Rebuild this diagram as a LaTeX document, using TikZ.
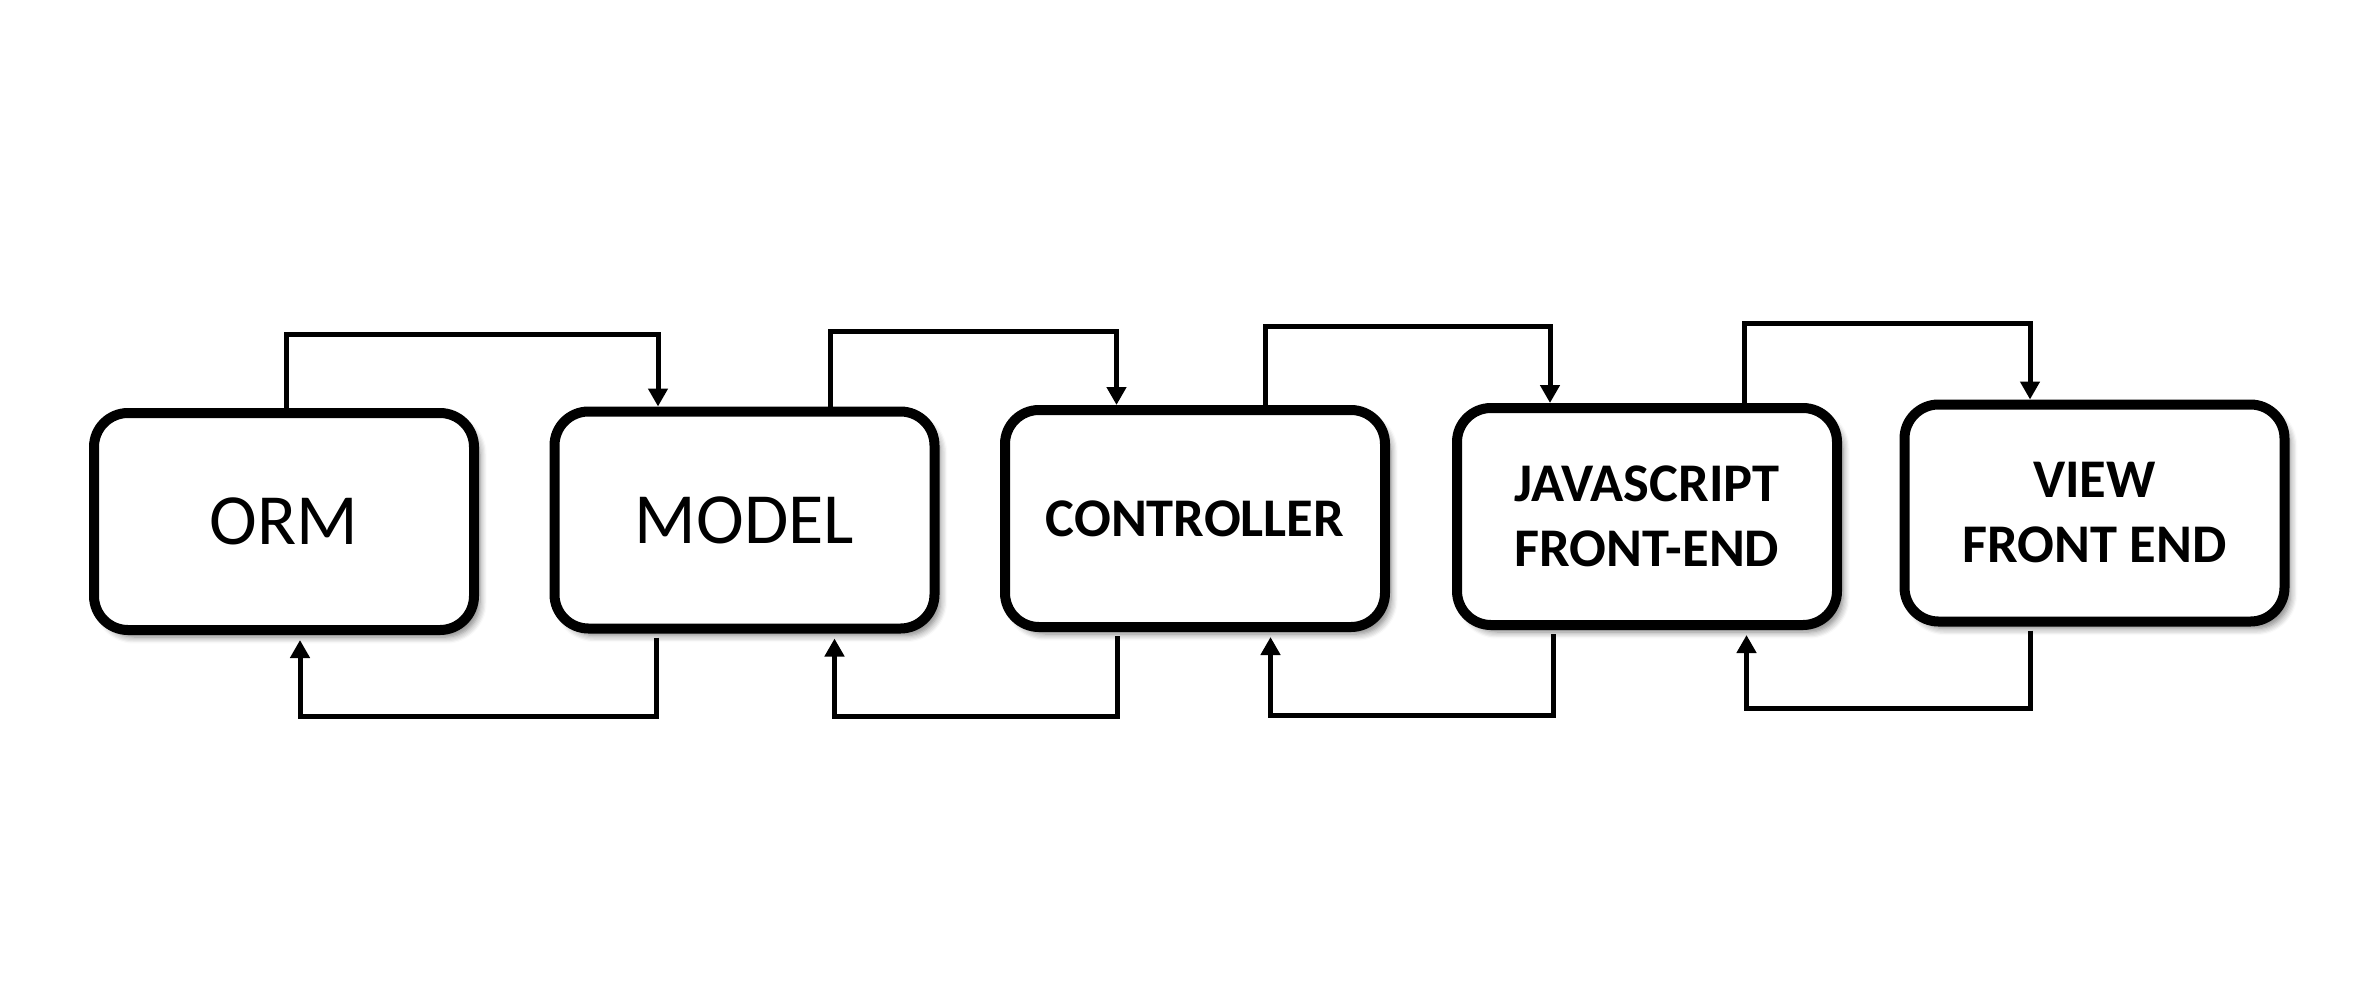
\documentclass[tikz,border=0pt]{standalone}
\usepackage{fontspec}
\setmainfont{Carlito}
\usetikzlibrary{arrows.meta,calc,shadows.blur}
\begin{document}
\begin{tikzpicture}[
  box/.style={draw=black, line width=0.1cm, rounded corners=0.34cm, fill=white,
    minimum width=3.80cm, minimum height=2.17cm, inner sep=0pt, align=center,
    blur shadow={shadow xshift=0.06cm, shadow yshift=-0.07cm, shadow blur steps=6, shadow opacity=50}},
  conn/.style={line width=0.05cm, -{Triangle[width=0.19cm,length=0.18cm]}},
  back/.style={conn, shorten <=0.04cm, shorten >=0.05cm},
  reg/.style={font=\fontsize{20.5}{24}\selectfont},
  bld/.style={font=\fontsize{15.5}{18.5}\selectfont\bfseries}
]
\useasboundingbox (0,0) rectangle (23.64,9.86);
\node[box, reg] (orm) at (2.84,4.645) {ORM};
\node[box, reg] (model) at (7.445,4.66) {MODEL};
\node[box, bld] (ctrl) at (11.95,4.675) {CONTROLLER};
\node[box, bld] (js) at (16.47,4.695) {JAVASCRIPT\\FRONT-END};
\node[box, bld] (view) at (20.945,4.73) {VIEW\\FRONT END};

% connector end points on the boxes
\coordinate (a1) at ($(orm.north)+(0.02,0)$);
\coordinate (b1) at ($(model.north)+(-0.865,0)$);
\coordinate (a2) at ($(model.north)+(0.855,0)$);
\coordinate (b2) at ($(ctrl.north)+(-0.785,0)$);
\coordinate (a3) at ($(ctrl.north)+(0.70,0)$);
\coordinate (b3) at ($(js.north)+(-0.97,0)$);
\coordinate (a4) at ($(js.north)+(0.97,0)$);
\coordinate (b4) at ($(view.north)+(-0.645,0)$);

\coordinate (c1) at ($(model.south)+(-0.885,0)$);
\coordinate (d1) at ($(orm.south)+(0.16,0)$);
\coordinate (c2) at ($(ctrl.south)+(-0.775,0)$);
\coordinate (d2) at ($(model.south)+(0.90,0)$);
\coordinate (c3) at ($(js.south)+(-0.935,0)$);
\coordinate (d3) at ($(ctrl.south)+(0.755,0)$);
\coordinate (c4) at ($(view.south)+(-0.64,0)$);
\coordinate (d4) at ($(js.south)+(0.995,0)$);

% forward connectors (top)
\draw[conn] (a1) -- (a1 |- 0,6.52) -| (b1);
\draw[conn] (a2) -- (a2 |- 0,6.55) -| (b2);
\draw[conn] (a3) -- (a3 |- 0,6.60) -| (b3);
\draw[conn] (a4) -- (a4 |- 0,6.63) -| (b4);

% backward connectors (bottom)
\draw[back] (c1) -- (c1 |- 0,2.70) -| (d1);
\draw[back] (c2) -- (c2 |- 0,2.70) -| (d2);
\draw[back] (c3) -- (c3 |- 0,2.71) -| (d3);
\draw[back] (c4) -- (c4 |- 0,2.775) -| (d4);
\end{tikzpicture}
\end{document}
